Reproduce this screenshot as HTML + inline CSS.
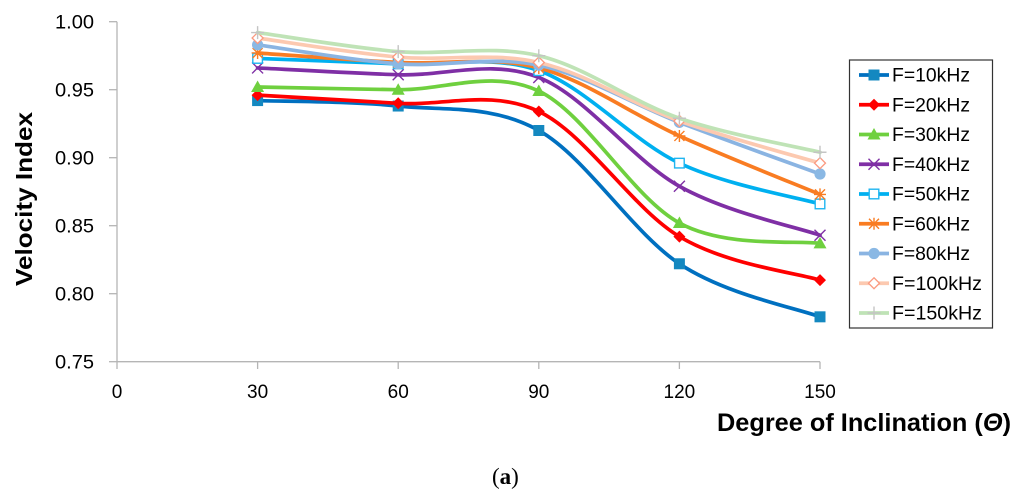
<!DOCTYPE html>
<html lang="en">
<head>
<meta charset="utf-8">
<title>Velocity Index vs Degree of Inclination</title>
<style>
html,body{margin:0;padding:0;background:#fff;width:1024px;height:500px;overflow:hidden}
svg{display:block}
text{font-family:"Liberation Sans",Arial,sans-serif;fill:#000}
</style>
</head>
<body>
<svg id="chart" xmlns="http://www.w3.org/2000/svg" width="1024" height="500" viewBox="0 0 1024 500">
  <g id="grid-axes"></g>
  <g id="plot"></g>
  <rect x="849.5" y="60" width="143" height="268" fill="#fff" stroke="#333" stroke-width="1.2"/>
  <g id="legend"></g>
  <text transform="translate(32,286) rotate(-90)" font-size="23" font-weight="bold" textLength="174" lengthAdjust="spacingAndGlyphs">Velocity Index</text>
  <text x="717" y="431" font-size="25" font-weight="bold" textLength="294" lengthAdjust="spacingAndGlyphs">Degree of Inclination (<tspan font-style="italic">Θ</tspan>)</text>
  <text x="492" y="484" font-size="23" style="font-family:'Liberation Serif',serif">(<tspan font-weight="bold">a</tspan>)</text>
</svg>
<script>
const angles = [30, 60, 90, 120, 150];
const xTickLabels = [0, 30, 60, 90, 120, 150];
const yTickLabels = [0.75, 0.80, 0.85, 0.90, 0.95, 1.00];
const seriesNames = ['F=10kHz','F=20kHz','F=30kHz','F=40kHz','F=50kHz','F=60kHz','F=80kHz','F=100kHz','F=150kHz'];
const f10 = [0.942, 0.938, 0.920, 0.822, 0.783];
const f20 = [0.946, 0.940, 0.934, 0.842, 0.810];
const f30 = [0.952, 0.950, 0.949, 0.852, 0.837];
const f40 = [0.966, 0.961, 0.959, 0.879, 0.843];
const f50 = [0.973, 0.969, 0.964, 0.896, 0.866];
const f60 = [0.977, 0.970, 0.966, 0.916, 0.873];
const f80 = [0.983, 0.969, 0.968, 0.926, 0.888];
const f100 = [0.988, 0.974, 0.970, 0.927, 0.896];
const f150 = [0.992, 0.978, 0.975, 0.929, 0.904];
const seriesValues = [f10, f20, f30, f40, f50, f60, f80, f100, f150];
const seriesColors = ['#0070c0','#ff0000','#6fd03f','#7f2fa5','#00b0f0','#f97c22','#8ab4e2','#fcc9b0','#bfe3b6'];
const markerColors = ['#1488c0','#ff0000','#6fd03f','#7f2fa5','#1fb5f0','#f97c22','#8ab8e4','#fb9a80','#c4c4c4'];
const markerKinds = ['square','diamond','triangle','cross','hollow-square','star','circle','hollow-diamond','plus'];

const NS = 'http://www.w3.org/2000/svg';
const sx = v => 117 + (v / 150) * 703;
const sy = v => 361.7 - ((v - 0.75) / 0.25) * 340;

function mk(parent, tag, attrs, text) {
  const el = document.createElementNS(NS, tag);
  for (const k in attrs) el.setAttribute(k, attrs[k]);
  if (text !== undefined) el.textContent = text;
  parent.appendChild(el);
  return el;
}

const axes = document.getElementById('grid-axes');
const axisColor = '#b5b5b5';
const yAxisLine = mk(axes, 'line', {x1: sx(0), x2: sx(0), y1: sy(1), y2: sy(0.75), stroke: axisColor, 'stroke-width': 1.3});


const xAxisLine = mk(axes, 'line', {x1: sx(0), x2: sx(150), y1: sy(0.75), y2: sy(0.75), stroke: axisColor, 'stroke-width': 1.3});



yTickLabels.forEach(v => {
  const tick = mk(axes, 'line', {x1: 109, x2: sx(0), y1: sy(v), y2: sy(v), stroke: axisColor, 'stroke-width': 1.3});
  
  
  const label = mk(axes, 'text', {x: 55, y: sy(v) + 6.8, 'font-size': 19, textLength: 39, lengthAdjust: 'spacingAndGlyphs'}, v.toFixed(2));
  
  
});
xTickLabels.forEach(v => {
  const tick = mk(axes, 'line', {x1: sx(v), x2: sx(v), y1: sy(0.75), y2: 369, stroke: axisColor, 'stroke-width': 1.3});
  
  
  const label = mk(axes, 'text', {x: sx(v), y: 398, 'font-size': 19, 'text-anchor': 'middle'}, String(v));
  
  
});

function smoothPath(pts) {
  let d = 'M' + pts[0][0].toFixed(2) + ' ' + pts[0][1].toFixed(2);
  for (let i = 0; i < pts.length - 1; i++) {
    const p0 = pts[Math.max(i - 1, 0)], p1 = pts[i], p2 = pts[i + 1], p3 = pts[Math.min(i + 2, pts.length - 1)];
    const c1x = p1[0] + (p2[0] - p0[0]) / 6, c1y = p1[1] + (p2[1] - p0[1]) / 6;
    const c2x = p2[0] - (p3[0] - p1[0]) / 6, c2y = p2[1] - (p3[1] - p1[1]) / 6;
    d += 'C' + [c1x, c1y, c2x, c2y, p2[0], p2[1]].map(n => n.toFixed(2)).join(' ');
  }
  return d;
}

function drawMarker(parent, kind, x, y, color) {
  const g = mk(parent, 'g', {});
  
  
  const sw = {stroke: color, 'stroke-width': 1.4, fill: 'none'};
  if (kind === 'square') mk(g, 'rect', {x: x - 5.5, y: y - 5.5, width: 11, height: 11, fill: color});
  else if (kind === 'diamond') mk(g, 'polygon', {points: `${x},${y-6} ${x+6},${y} ${x},${y+6} ${x-6},${y}`, fill: color});
  else if (kind === 'triangle') mk(g, 'polygon', {points: `${x},${y-6.5} ${x+6.5},${y+5} ${x-6.5},${y+5}`, fill: color});
  else if (kind === 'cross') mk(g, 'path', {d: `M${x-5.5} ${y-5.5}L${x+5.5} ${y+5.5}M${x-5.5} ${y+5.5}L${x+5.5} ${y-5.5}`, ...sw});
  else if (kind === 'hollow-square') mk(g, 'rect', {x: x - 4.8, y: y - 4.8, width: 9.6, height: 9.6, fill: '#fff', stroke: color, 'stroke-width': 1.4});
  else if (kind === 'star') mk(g, 'path', {d: `M${x-5} ${y-5}L${x+5} ${y+5}M${x-5} ${y+5}L${x+5} ${y-5}M${x} ${y-6}L${x} ${y+6}M${x-6} ${y}L${x+6} ${y}`, ...sw});
  else if (kind === 'circle') mk(g, 'circle', {cx: x, cy: y, r: 5.6, fill: color});
  else if (kind === 'hollow-diamond') mk(g, 'polygon', {points: `${x},${y-5.5} ${x+5.5},${y} ${x},${y+5.5} ${x-5.5},${y}`, fill: '#fff', stroke: color, 'stroke-width': 1.3});
  else if (kind === 'plus') mk(g, 'path', {d: `M${x} ${y-6.5}L${x} ${y+6.5}M${x-6.5} ${y}L${x+6.5} ${y}`, ...sw});
}

const plot = document.getElementById('plot');
seriesValues.forEach((vals, i) => {
  const g = mk(plot, 'g', {});
  
  
  const pts = vals.map((v, j) => [sx(angles[j]), sy(v)]);
  const line = mk(g, 'path', {d: smoothPath(pts), fill: 'none', stroke: seriesColors[i], 'stroke-width': 3.7, 'stroke-linecap': 'round'});
  
  
  pts.forEach(p => drawMarker(g, markerKinds[i], p[0], p[1], markerColors[i]));
});

const legend = document.getElementById('legend');
seriesNames.forEach((name, i) => {
  const y = 75 + i * 29.75;
  const entry = mk(legend, 'g', {});
  
  
  mk(entry, 'line', {x1: 859, x2: 889, y1: y, y2: y, stroke: seriesColors[i], 'stroke-width': 3.7});
  drawMarker(entry, markerKinds[i], 874, y, markerColors[i]);
  const label = mk(entry, 'text', {x: 892, y: y + 6.6, 'font-size': 19, textLength: name.length > 7 ? 90 : 78, lengthAdjust: 'spacingAndGlyphs'}, name);
  
  
});
</script>
</body>
</html>
